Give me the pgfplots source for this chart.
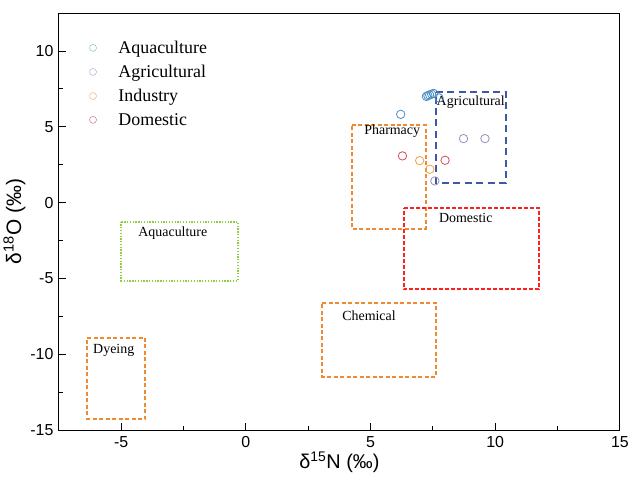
\documentclass[border=0pt]{standalone}
\usepackage{pgfplots}
\pgfplotsset{compat=1.18}
\usepackage{fontspec}
\setmainfont{Liberation Serif}
\setsansfont{Liberation Sans}
\usetikzlibrary{calc}
\definecolor{boxorange}{HTML}{F08A30}
\definecolor{boxblue}{HTML}{3C5AA8}
\definecolor{boxred}{HTML}{FF2020}
\definecolor{boxgreen}{HTML}{8CD040}
\definecolor{ptblue}{HTML}{4A8CC4}
\definecolor{ptpurple}{HTML}{9C8CBC}
\definecolor{ptorange}{HTML}{F0A040}
\definecolor{ptred}{HTML}{D84858}
\definecolor{lggreen}{HTML}{78BC78}
\definecolor{lgpurple}{HTML}{A4A0C4}
\definecolor{lgorange}{HTML}{E8A880}
\definecolor{lgred}{HTML}{C06068}
\begin{document}
\begin{tikzpicture}
\begin{axis}[
  scale only axis,
  width=562bp, height=418bp,
  xmin=-7.5, xmax=15, ymin=-15, ymax=12.5,
  xtick={-5,0,5,10,15}, ytick={-15,-10,-5,0,5,10},
  minor xtick={-2.5,2.5,7.5,12.5},
  minor ytick={-12.5,-7.5,-2.5,2.5,7.5},
  tick align=inside,
  xtick pos=bottom, ytick pos=left,
  major tick length=7bp, minor tick length=4bp,
  every tick/.style={black, line width=0.8pt},
  axis line style={line width=0.9pt},
  /pgf/number format/assume math mode=true,
  ticklabel style={font=\sffamily\fontsize{16}{18}\selectfont},
  xticklabel style={yshift=-3bp},
  yticklabel style={xshift=-2bp},
  xlabel={\sffamily\fontsize{20}{22}\selectfont δ\textsuperscript{15}N (‰)},
  ylabel={\sffamily\fontsize{21}{24}\selectfont δ\textsuperscript{18}O (‰)},
  xlabel style={yshift=3bp},
  ylabel style={yshift=-2bp},
  legend style={draw=none, fill=none, at={(0.049,0.943)}, anchor=north west,
    font=\fontsize{18}{20}\selectfont, row sep=6.2bp},
  legend cell align=left,
  clip=false,
]
% legend entries
\addlegendimage{only marks, mark=o, mark size=3.5bp, lggreen, thin}
\addlegendentry{\hspace{20bp}Aquaculture}
\addlegendimage{only marks, mark=o, mark size=3.5bp, lgpurple, thin}
\addlegendentry{\hspace{20bp}Agricultural}
\addlegendimage{only marks, mark=o, mark size=3.5bp, lgorange, thin}
\addlegendentry{\hspace{20bp}Industry}
\addlegendimage{only marks, mark=o, mark size=3.5bp, lgred, thin}
\addlegendentry{\hspace{20bp}Domestic}

% boxes
\addplot[forget plot, boxorange, line width=2bp, line join=miter, dash pattern=on 4bp off 2.5bp] coordinates {(4.24,5.1)(7.22,5.1)(7.22,-1.71)(4.24,-1.71)(4.24,5.1)};
\addplot[forget plot, boxblue, line width=2bp, line join=miter, dash pattern=on 7bp off 4.5bp] coordinates {(7.62,7.3)(10.43,7.3)(10.43,1.32)(7.62,1.32)(7.62,7.3)};
\addplot[forget plot, boxred, line width=2bp, line join=miter, dash pattern=on 4bp off 2bp] coordinates {(6.35,-0.33)(11.74,-0.33)(11.74,-5.72)(6.35,-5.72)(6.35,-0.33)};
\addplot[forget plot, boxorange, line width=2bp, line join=miter, dash pattern=on 4bp off 2.5bp] coordinates {(3.07,-6.61)(7.62,-6.61)(7.62,-11.49)(3.07,-11.49)(3.07,-6.61)};
\addplot[forget plot, boxgreen, line width=2bp, line join=miter, dash pattern=on 1.3bp off 1.5bp] coordinates {(-4.99,-1.27)(-0.32,-1.27)(-0.32,-5.14)(-4.99,-5.14)(-4.99,-1.27)};
\addplot[forget plot, boxorange, line width=2bp, line join=miter, dash pattern=on 4bp off 2.5bp] coordinates {(-6.37,-8.9)(-4.03,-8.9)(-4.03,-14.24)(-6.37,-14.24)(-6.37,-8.9)};

% box labels
\node[font=\fontsize{14}{16}\selectfont] at (axis cs:5.87,4.7) {Pharmacy};
\node[font=\fontsize{14}{16}\selectfont] at (axis cs:9.02,6.6) {Agricultural};
\node[font=\fontsize{14}{16}\selectfont] at (axis cs:8.82,-0.99) {Domestic};
\node[font=\fontsize{14}{16}\selectfont] at (axis cs:4.94,-7.43) {Chemical};
\node[font=\fontsize{14}{16}\selectfont] at (axis cs:-2.93,-2.04) {Aquaculture};
\node[font=\fontsize{14}{16}\selectfont] at (axis cs:-5.3,-9.74) {Dyeing};

% data points
\addplot[forget plot, only marks, mark=o, mark size=4.2bp, ptblue, line width=0.8pt] coordinates {
(6.21,5.82)(7.24,7.0)(7.30,7.05)(7.37,7.1)(7.45,7.15)(7.53,7.2)(7.75,6.9)};
\addplot[forget plot, only marks, mark=o, mark size=4.2bp, ptpurple, line width=0.8pt] coordinates {
(8.73,4.22)(9.59,4.22)(7.58,1.43)};
\addplot[forget plot, only marks, mark=o, mark size=4.2bp, ptorange, line width=0.8pt] coordinates {
(6.97,2.77)(7.38,2.2)};
\addplot[forget plot, only marks, mark=o, mark size=4.2bp, ptred, line width=0.8pt] coordinates {
(6.28,3.08)(7.99,2.79)};
\end{axis}
\path[use as bounding box] ($(current axis.south west)+(-59bp,-48bp)$) rectangle ($(current axis.north east)+(11bp,13bp)$);
\end{tikzpicture}
\end{document}
